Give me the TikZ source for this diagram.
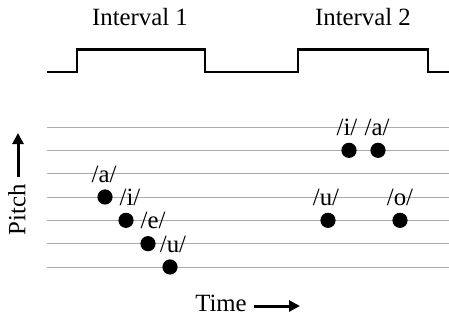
\documentclass[tikz,border=0pt]{standalone}
\usepackage{fontspec}
\setmainfont{Liberation Serif}
\usetikzlibrary{arrows.meta}
\tikzset{
  staff/.style={gray!65,line width=0.45pt},
  wave/.style={line width=1.1pt,line join=miter},
  vowel/.style={circle,fill=black,inner sep=0pt,minimum size=7.6pt},
  vlabel/.style={inner sep=0pt},
  axisarrow/.style={line width=1.5pt,-{Triangle[length=5.5pt,width=5.5pt]}}
}
\begin{document}
\begin{tikzpicture}[x=0.5pt,y=-0.5pt,font=\fontsize{12.4}{14}\selectfont]
  \useasboundingbox (0,0) rectangle (449,321);
  % pitch lines
  \foreach \i in {0,...,6}{\pgfmathsetmacro{\yy}{127+23.33*\i}
    \draw[staff] (47,\yy)--(449,\yy);}
  % intervals
  \draw[wave] (47,72)--(77,72)--(77,49.5)--(205,49.5)--(205,72)--(298,72)--(298,49.5)--(428,49.5)--(428,72)--(449,72);
  \node (int1) at (140,17) {Interval 1};
  \node (int2) at (363,17) {Interval 2};
  % vowels
  \foreach \n/\x/\l/\t/\dx in {la/105/3/a/-1,li/126/4/i/4,le/148/5/e/5,lu/170/6/u/3,
                               ri/349/1/i/-2,ra/378/1/a/-1,ru/328/4/u/-2,ro/400/4/o/0}{
    \pgfmathsetmacro{\yy}{127+23.33*\l}
    \node[vowel] (\n) at (\x,\yy) {};
    \node[vlabel] (\n-t) at ({\x+\dx},{\yy-23}) {/\t/};
  }
  % axes
  \node[rotate=90] (pitch) at (17,210) {Pitch};
  \coordinate (ptip) at (18,133);
  \draw[axisarrow] (ptip |- pitch.east)--(ptip);
  \node (time) at (221,303) {Time};
  \coordinate (ttip) at (300,306);
  \draw[axisarrow] (time.east |- ttip)--(ttip);
\end{tikzpicture}
\end{document}
